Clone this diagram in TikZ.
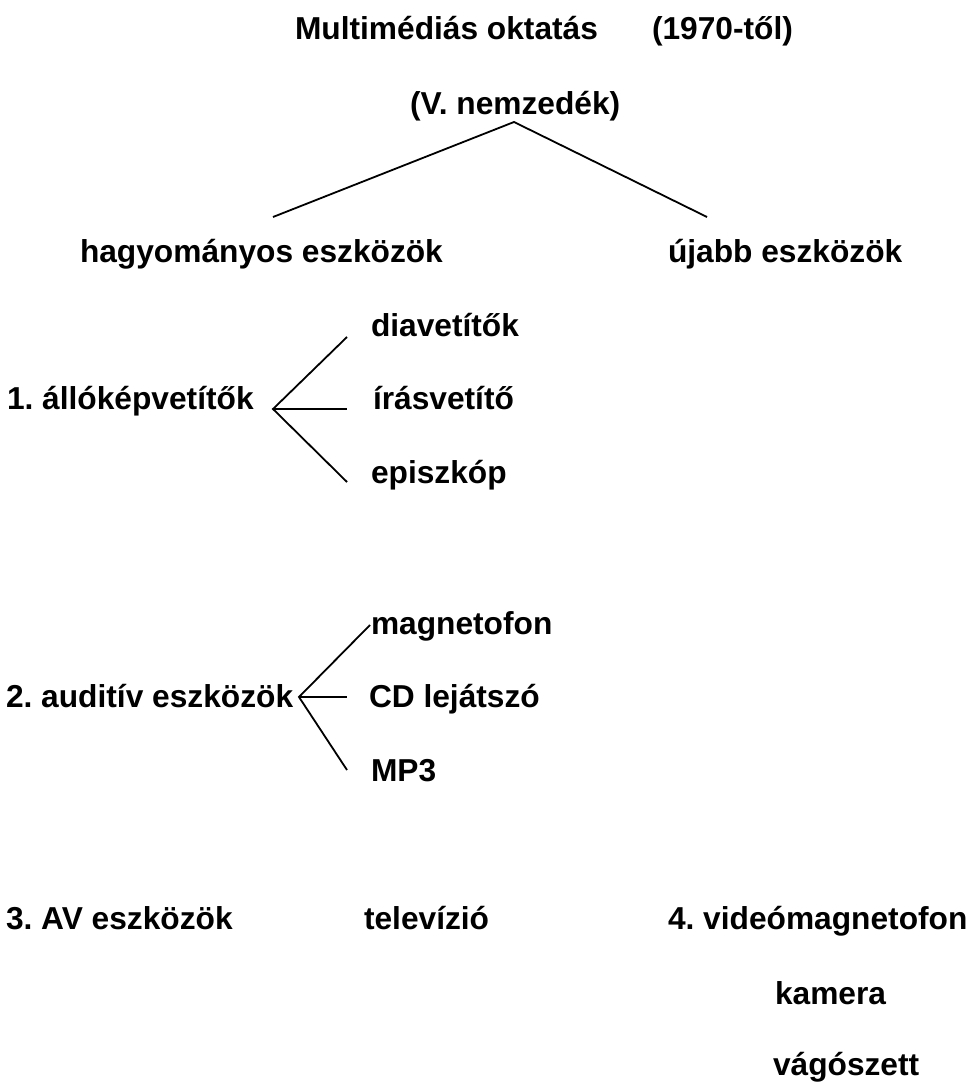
\documentclass[tikz,border=0pt]{standalone}
\usepackage{fontspec}
\setmainfont{Liberation Sans}
\frenchspacing
\begin{document}
\frenchspacing
\begin{tikzpicture}[x=1pt,y=-1pt,
  lbl/.style={anchor=base west,inner sep=0pt,outer sep=0pt,font=\fontsize{31.7}{38}\selectfont\bfseries\frenchspacing},
  conn/.style={draw=black,line width=1.8pt}]
\useasboundingbox[fill=white] (0,0) rectangle (974,1083);
% title
\node[lbl] (title) at (295,40) {Multimédiás oktatás};
\node[lbl] (year) at (652,40) {(1970-től)};
\node[lbl] (gen) at (410,115) {(V. nemzedék)};
\node[lbl] (hagy) at (80,262) {hagyományos eszközök};
\node[lbl] (ujabb) at (668,262) {újabb eszközök};
% tree top
\coordinate (apex) at (514,122);
\coordinate (hagyend) at (273,217);
\coordinate (ujend) at (707,217);
\draw[conn] (hagyend) -- (apex) -- (ujend);
% group 1
\node[lbl] (g1) at (7,409) {1. állóképvetítők};
\node[lbl] (dia) at (371,336) {diavetítők};
\node[lbl] (iras) at (373,409) {írásvetítő};
\node[lbl] (epi) at (371,483) {episzkóp};
\coordinate (b1) at (273,409);
\coordinate (b1a) at (347,337);
\coordinate (b1b) at (347,409);
\coordinate (b1c) at (347,482);
\draw[conn] (b1a) -- (b1) -- (b1c);
\draw[conn] (b1) -- (b1b);
% group 2
\node[lbl] (g2) at (6,707) {2. auditív eszközök};
\node[lbl] (mag) at (371,634) {magnetofon};
\node[lbl] (cd) at (369,707) {CD lejátszó};
\node[lbl] (mp) at (371,781) {MP3};
\coordinate (b2) at (299,697);
\coordinate (b2a) at (370,625);
\coordinate (b2b) at (347,697);
\coordinate (b2c) at (347,770);
\draw[conn] (b2a) -- (b2) -- (b2c);
\draw[conn] (b2) -- (b2b);
% group 3/4
\node[lbl] (g3) at (6,929) {3. AV eszközök};
\node[lbl] (tv) at (364,929) {televízió};
\node[lbl] (g4) at (668,929) {4. videómagnetofon};
\node[lbl] (kam) at (775,1004) {kamera};
\node[lbl] (vago) at (773,1075) {vágószett};
\end{tikzpicture}
\end{document}
